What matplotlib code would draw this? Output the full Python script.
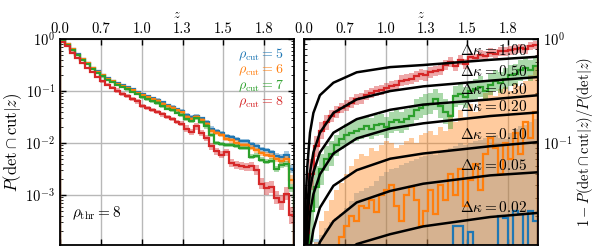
import numpy as np
import matplotlib
matplotlib.use("Agg")
import matplotlib.pyplot as plt
from matplotlib.ticker import NullFormatter

plt.rcParams['mathtext.fontset'] = 'cm'
plt.rcParams['font.family'] = 'serif'
plt.rcParams['font.serif'] = ['cmr10', 'DejaVu Serif']
plt.rcParams['axes.formatter.use_mathtext'] = True
plt.rcParams['font.size'] = 10

# top axis: evenly spaced ticks labelled with redshift
tick_pos = [0, 1, 2, 3, 4, 5]
z_labels = ['0.0', '0.7', '1.0', '1.3', '1.5', '1.8']
x_max = 5.73
n_bins = 47

rho_cut = [5, 6, 7, 8]
colors = ['#1f77b4', '#ff7f0e', '#2ca02c', '#d62728']

# left panel: log10 P(det & cut | z) per bin
left_5 = [-0.04, -0.10, -0.20, -0.29, -0.38, -0.46, -0.55, -0.62, -0.69, -0.75,
          -0.80, -0.85, -0.89, -0.93, -0.97, -1.01, -1.06, -1.10, -1.14, -1.17,
          -1.22, -1.27, -1.30, -1.35, -1.38, -1.46, -1.50, -1.48, -1.52, -1.60,
          -1.72, -1.76, -1.80, -1.86, -1.88, -1.92, -1.96, -1.96, -2.02, -2.06,
          -2.12, -2.14, -2.18, -2.24, -2.27, -2.22, -2.50]
left_6 = [-0.04, -0.10, -0.20, -0.30, -0.39, -0.47, -0.56, -0.63, -0.70, -0.76,
          -0.81, -0.86, -0.90, -0.94, -0.98, -1.03, -1.08, -1.12, -1.16, -1.19,
          -1.24, -1.29, -1.32, -1.37, -1.41, -1.49, -1.53, -1.50, -1.55, -1.63,
          -1.76, -1.80, -1.85, -1.92, -1.95, -1.99, -2.04, -2.03, -2.09, -2.14,
          -2.20, -2.22, -2.25, -2.31, -2.34, -2.30, -2.70]
left_7 = [-0.04, -0.11, -0.21, -0.31, -0.40, -0.48, -0.57, -0.65, -0.72, -0.78,
          -0.83, -0.88, -0.92, -0.97, -1.01, -1.06, -1.12, -1.16, -1.20, -1.23,
          -1.29, -1.34, -1.37, -1.42, -1.46, -1.54, -1.58, -1.52, -1.60, -1.68,
          -1.84, -2.00, -2.02, -2.04, -2.04, -2.06, -2.10, -2.10, -2.26, -2.24,
          -2.32, -2.36, -2.34, -2.50, -2.42, -2.40, -2.86]
left_8 = [-0.05, -0.14, -0.26, -0.37, -0.47, -0.56, -0.64, -0.73, -0.81, -0.88,
          -0.94, -0.99, -1.05, -1.10, -1.15, -1.20, -1.28, -1.32, -1.36, -1.40,
          -1.45, -1.50, -1.54, -1.59, -1.63, -1.72, -1.78, -1.68, -1.80, -1.90,
          -2.06, -2.16, -2.22, -2.18, -2.38, -2.42, -2.44, -2.46, -2.45, -2.52,
          -2.78, -2.87, -2.84, -3.05, -3.14, -2.97, -3.39]
# band half-widths (dex)
left_err = [0.02, 0.02, 0.02, 0.02, 0.02, 0.02, 0.02, 0.02, 0.02, 0.02,
            0.02, 0.02, 0.02, 0.02, 0.02, 0.02, 0.03, 0.03, 0.03, 0.03,
            0.03, 0.03, 0.03, 0.03, 0.03, 0.03, 0.03, 0.03, 0.03, 0.04,
            0.04, 0.04, 0.04, 0.04, 0.04, 0.04, 0.04, 0.04, 0.05, 0.05,
            0.05, 0.05, 0.05, 0.05, 0.06, 0.06, 0.08]
left_err_8 = [0.02, 0.02, 0.02, 0.02, 0.02, 0.02, 0.02, 0.02, 0.03, 0.03,
              0.03, 0.04, 0.04, 0.04, 0.04, 0.04, 0.04, 0.04, 0.04, 0.04,
              0.04, 0.04, 0.04, 0.04, 0.05, 0.06, 0.06, 0.06, 0.06, 0.06,
              0.07, 0.07, 0.07, 0.07, 0.08, 0.08, 0.08, 0.08, 0.08, 0.09,
              0.10, 0.12, 0.12, 0.13, 0.14, 0.13, 0.16]

# right panel: log10 of 1 - P(det & cut|z)/P(det|z)
right_8 = [-1.86, -1.30, -1.03, -0.88, -0.80, -0.74, -0.70, -0.66, -0.64, -0.61,
           -0.58, -0.57, -0.54, -0.52, -0.50, -0.49, -0.47, -0.45, -0.44, -0.40,
           -0.39, -0.38, -0.36, -0.34, -0.35, -0.32, -0.31, -0.30, -0.25, -0.22,
           -0.26, -0.20, -0.24, -0.17, -0.18, -0.15, -0.16, -0.13, -0.14, -0.12,
           -0.12, -0.11, -0.10, -0.09, -0.10, -0.07, -0.06]
right_err_8 = [0.30, 0.15, 0.10, 0.08, 0.07, 0.06, 0.06, 0.05, 0.05, 0.05,
               0.05, 0.05, 0.05, 0.05, 0.05, 0.05, 0.05, 0.05, 0.05, 0.05,
               0.05, 0.05, 0.05, 0.05, 0.05, 0.05, 0.05, 0.05, 0.05, 0.05,
               0.05, 0.05, 0.05, 0.04, 0.04, 0.04, 0.04, 0.04, 0.04, 0.04,
               0.04, 0.04, 0.04, 0.04, 0.04, 0.04, 0.04]
right_7 = [-2.20, -1.65, -1.42, -1.25, -1.15, -1.10, -1.02, -0.96, -0.92, -0.90,
           -0.88, -0.86, -0.84, -0.86, -0.83, -0.82, -0.85, -0.80, -0.78, -0.80,
           -0.77, -0.74, -0.68, -0.66, -0.63, -0.62, -0.58, -0.64, -0.70, -0.74,
           -0.55, -0.53, -0.56, -0.50, -0.48, -0.46, -0.50, -0.44, -0.40, -0.42,
           -0.38, -0.35, -0.34, -0.30, -0.28, -0.30, -0.26]
right_err_7 = [0.40, 0.30, 0.20, 0.15, 0.12, 0.12, 0.10, 0.10, 0.10, 0.10,
               0.10, 0.10, 0.10, 0.10, 0.10, 0.10, 0.10, 0.10, 0.10, 0.10,
               0.10, 0.10, 0.10, 0.10, 0.10, 0.10, 0.10, 0.12, 0.12, 0.12,
               0.10, 0.10, 0.10, 0.10, 0.10, 0.10, 0.10, 0.10, 0.10, 0.10,
               0.10, 0.10, 0.10, 0.10, 0.10, 0.10, 0.10]
right_6 = [-3.0, -3.0, -3.0, -3.0, -3.0, -3.0, -2.10, -1.90, -1.80, -1.70,
           -1.75, -1.60, -1.62, -1.55, -1.66, -1.50, -1.45, -1.40, -1.60, -1.75,
           -1.50, -1.42, -1.55, -1.80, -1.65, -1.45, -1.68, -1.40, -1.55, -1.30,
           -1.50, -1.25, -1.60, -1.35, -1.20, -1.45, -1.10, -0.95, -1.05, -1.30,
           -1.00, -1.15, -0.90, -1.10, -0.80, -0.95, -0.70]
right_hi_6 = [-2.30, -2.10, -1.95, -1.75, -1.65, -1.55, -1.45, -1.38, -1.30, -1.22,
              -1.15, -1.10, -1.12, -1.05, -1.08, -1.02, -0.98, -1.00, -1.05, -1.02,
              -0.98, -0.95, -1.00, -0.92, -0.90, -0.88, -0.92, -0.85, -0.88, -0.72,
              -0.80, -0.68, -0.75, -0.62, -0.70, -0.60, -0.52, -0.50, -0.55, -0.48,
              -0.46, -0.50, -0.42, -0.45, -0.40, -0.35, -0.25]
right_5 = [-3.0, -3.0, -3.0, -3.0, -3.0, -3.0, -3.0, -3.0, -3.0, -3.0,
           -3.0, -3.0, -3.0, -3.0, -3.0, -3.0, -3.0, -3.0, -3.0, -3.0,
           -3.0, -3.0, -3.0, -3.0, -3.0, -3.0, -3.0, -3.0, -3.0, -3.0,
           -1.80, -1.80, -3.0, -1.85, -3.0, -3.0, -3.0, -3.0, -3.0, -1.70,
           -1.72, -3.0, -1.65, -1.68, -3.0, -1.65, -1.75]
right_hi_5 = [-2.30, -2.00, -1.92, -1.88, -1.82, -1.76, -1.72, -1.68, -1.62, -1.56,
              -1.48, -1.46, -1.43, -1.41, -1.36, -1.32, -1.28, -1.25, -1.24, -1.21,
              -1.19, -1.17, -1.15, -1.13, -1.12, -1.10, -1.11, -1.09, -1.07, -1.05,
              -1.03, -1.00, -1.02, -1.00, -0.98, -0.97, -0.95, -0.93, -0.92, -0.95,
              -0.96, -0.90, -0.86, -0.84, -0.83, -0.80, -0.77]

# model curves, sampled along the axis (log10 values)
u_model = [0.0, 0.016, 0.041, 0.082, 0.147, 0.23, 0.39, 0.72, 1.29, 2.11, 2.92, 4.56, 5.74]
dkappa = ['1.00', '0.50', '0.30', '0.20', '0.10', '0.05', '0.02']
model_100 = [-4.0, -1.97, -1.54, -1.22, -0.90, -0.71, -0.54, -0.42, -0.32, -0.27, -0.25, -0.20, -0.17]
model_050 = [-4.0, -2.40, -1.86, -1.60, -1.28, -1.09, -0.90, -0.71, -0.58, -0.50, -0.455, -0.40, -0.365]
model_030 = [-4.0, -2.60, -2.10, -1.73, -1.44, -1.28, -1.09, -0.90, -0.77, -0.68, -0.63, -0.58, -0.54]
model_020 = [-4.0, -2.80, -2.30, -1.97, -1.67, -1.49, -1.30, -1.10, -0.955, -0.86, -0.81, -0.74, -0.705]
model_010 = [-4.0, -3.10, -2.60, -2.25, -2.02, -1.83, -1.62, -1.41, -1.26, -1.15, -1.10, -1.03, -0.99]
model_005 = [-4.0, -3.40, -2.90, -2.60, -2.35, -2.15, -1.95, -1.75, -1.57, -1.46, -1.39, -1.31, -1.28]
model_002 = [-4.0, -3.80, -3.30, -3.00, -2.75, -2.60, -2.40, -2.15, -1.97, -1.875, -1.80, -1.71, -1.67]
models = [model_100, model_050, model_030, model_020, model_010, model_005, model_002]
label_y = [0.942, 0.840, 0.757, 0.670, 0.534, 0.388, 0.184]

edges = np.linspace(0, x_max, n_bins + 1)

fig = plt.figure(figsize=(5.98, 2.49), dpi=100)
axL = fig.add_axes([60 / 598, 4 / 249, 234 / 598, 206 / 249])
axR = fig.add_axes([304 / 598, 4 / 249, 234 / 598, 206 / 249])


def style(ax):
    ax.set_yscale('log')
    ax.set_xlim(0, x_max)
    ax.set_xticks(tick_pos)
    ax.set_xticklabels(z_labels)
    ax.xaxis.set_label_position('top')
    ax.set_xlabel(r'$z$', fontsize=9, labelpad=3)
    ax.tick_params(which='both', direction='in', top=True, bottom=True,
                   left=True, right=True, labeltop=True, labelbottom=False,
                   labelsize=10.5)
    ax.tick_params(axis='x', pad=2)
    ax.tick_params(which='major', length=4, width=1)
    ax.tick_params(which='minor', length=2, width=0.6)
    ax.xaxis.set_minor_locator(plt.NullLocator())
    ax.yaxis.set_minor_formatter(NullFormatter())
    ax.grid(True, which='major', color='#b8b8b8', lw=1)
    ax.set_axisbelow(True)
    for s in ax.spines.values():
        s.set_linewidth(1.3)


# left panel
style(axL)
axL.set_ylim(1.1e-4, 1)
for vals, err, c in zip([left_5, left_6, left_7, left_8],
                        [left_err, left_err, left_err, left_err_8], colors):
    v = np.array(vals)
    e = np.array(err)
    axL.stairs(10 ** (v + e), edges, baseline=10 ** (v - e), fill=True,
               color=c, alpha=0.4, lw=0)
    axL.stairs(10 ** v, edges, color=c, lw=1.6)
for r, c, y in zip(rho_cut, colors, [0.925, 0.850, 0.772, 0.694]):
    axL.text(0.955, y, r'$\rho_\mathrm{cut} = %d$' % r, color=c,
             transform=axL.transAxes, ha='right', va='center', fontsize=10)
axL.text(0.05, 0.155, r'$\rho_\mathrm{thr} = 8$', transform=axL.transAxes,
         ha='left', va='center', fontsize=11)
axL.set_ylabel(r'$P(\mathrm{det} \cap \mathrm{cut}|z)$', fontsize=12, labelpad=1)

# right panel
style(axR)
axR.set_ylim(1.05e-2, 1)
axR.tick_params(which='both', labelleft=False, labelright=True)
axR.yaxis.set_label_position('right')
axR.set_ylabel(r'$1 - P(\mathrm{det} \cap \mathrm{cut}|z)/P(\mathrm{det}|z)$',
               fontsize=10.5, labelpad=2)

# blue band first, orange over it gives the brownish overlap
for vals, hi, c, a in [(right_5, right_hi_5, colors[0], 0.3),
                       (right_6, right_hi_6, colors[1], 0.4)]:
    v = 10 ** np.array(vals)
    h = 10 ** np.array(hi)
    lo = np.clip(2 * v - h, 1e-4, None)
    axR.stairs(h, edges, baseline=lo, fill=True, color=c, alpha=a, lw=0)
for vals, err, c in [(right_7, right_err_7, colors[2]),
                     (right_8, right_err_8, colors[3])]:
    v = np.array(vals)
    e = np.array(err)
    axR.stairs(10 ** (v + e), edges, baseline=10 ** (v - e), fill=True,
               color=c, alpha=0.4, lw=0)
for vals, c in [(right_6, colors[1]), (right_5, colors[0]),
                (right_7, colors[2]), (right_8, colors[3])]:
    axR.stairs(10 ** np.array(vals), edges, color=c, lw=1.6)

for m, dk, y in zip(models, dkappa, label_y):
    axR.plot(u_model, 10 ** np.array(m), color='k', lw=1.8)
    axR.text(0.955, y, r'$\Delta\kappa = %s$' % dk, transform=axR.transAxes,
             ha='right', va='center', fontsize=11)

fig.savefig('out.png', dpi=100)
